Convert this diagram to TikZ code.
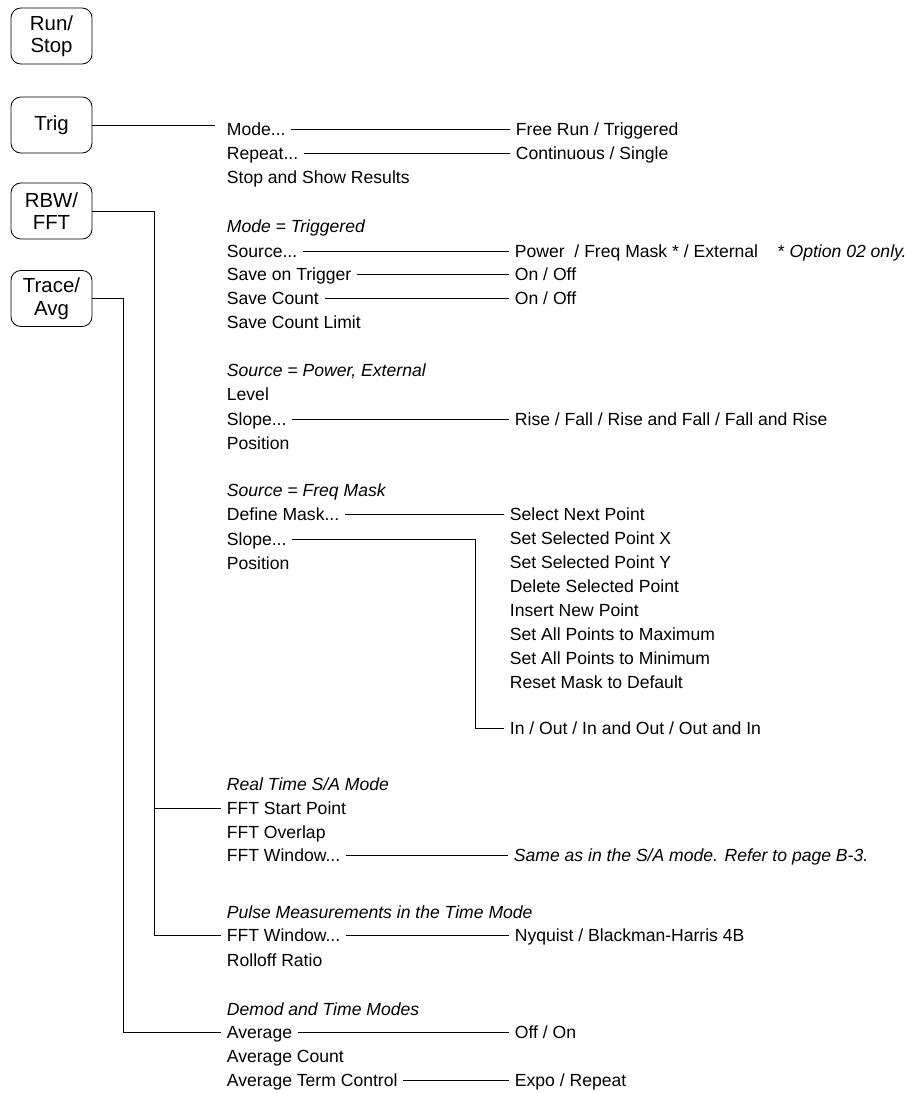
\documentclass[tikz,border=0pt]{standalone}
\usepackage{fontspec}
\setmainfont{Liberation Sans}
\usepackage{tikz}
\newcommand{\menufont}{\fontsize{12.5}{15}\selectfont}
\tikzset{
  keybox/.style = {draw,rounded corners=7pt,line width=0.6pt,minimum width=2.025cm,
                   minimum height=1.4cm,align=center,font=\fontsize{14.5}{16}\selectfont},
  item/.style   = {anchor=west,inner xsep=4pt,inner ysep=0pt,text height=9pt,text depth=0pt,font=\menufont},
  hdr/.style    = {item,font=\menufont\itshape},
  link/.style   = {line width=0.6pt}
}

\begin{document}
\begin{tikzpicture}[x=0.025cm,y=-0.025cm]
  \useasboundingbox (0,0) rectangle (909,1093);
  \node[keybox] (run)   at (51.5,36)    {Run/\\Stop};
  \node[keybox] (trig)  at (51.5,125)   {Trig};
  \node[keybox] (rbw)   at (51.5,211)   {RBW/\\FFT};
  \node[keybox] (trace) at (51.5,298.5) {Trace/\\Avg};
  \coordinate (rbwbus)   at (154,0);
  \coordinate (tracebus) at (123,0);
  \coordinate (maskbus)  at (475,0);
  \coordinate (trigend)  at (215,0);

  \node[item] (mode)     at (221,129)   {Mode...};
  \node[item] (repeat)   at (221,153.5) {Repeat...};
  \node[item] (stopshow) at (221,177.5) {Stop and Show Results};
  \node[hdr]  (hdtrig)   at (221,226)   {Mode = Triggered};
  \node[item] (source)   at (221,251)   {Source...};
  \node[item] (saveon)   at (221,274.5) {Save on Trigger};
  \node[item] (savecnt)  at (221,298.5) {Save Count};
  \node[item] (savelim)  at (221,322)   {Save Count Limit};
  \node[hdr]  (hdpow)    at (221,370.5) {Source = Power, External};
  \node[item] (level)    at (221,394.5) {Level};
  \node[item] (slopea)   at (221,419)   {Slope...};
  \node[item] (posa)     at (221,443)   {Position};
  \node[hdr]  (hdmask)   at (221,490.5) {Source = Freq Mask};
  \node[item] (defmask)  at (221,514.5) {Define Mask...};
  \node[item] (slopeb)   at (221,539)   {Slope...};
  \node[item] (posb)     at (221,563)   {Position};
  \node[hdr]  (hdrt)     at (221,784.5) {Real Time S/A Mode};
  \node[item] (fftstart) at (221,808.5) {FFT Start Point};
  \node[item] (fftovl)   at (221,832.5) {FFT Overlap};
  \node[item] (fftwina)  at (221,855.5) {FFT Window...};
  \node[hdr]  (hdpulse)  at (221,912.5) {Pulse Measurements in the Time Mode};
  \node[item] (fftwinb)  at (221,935.5) {FFT Window...};
  \node[item] (rolloff)  at (221,960.5) {Rolloff Ratio};
  \node[hdr]  (hddemod)  at (221,1009.5) {Demod and Time Modes};
  \node[item] (avg)      at (221,1032.5) {Average};
  \node[item] (avgcnt)   at (221,1056.5) {Average Count};
  \node[item] (avgterm)  at (221,1080.5) {Average Term Control};

  \node[item] (freerun)    at (510,129)   {Free Run / Triggered};
  \node[item] (contsingle) at (510,153.5) {Continuous / Single};
  \node[item] (srcval)     at (509,251)   {Power\ \ / Freq Mask * / External};
  \node[item] (optnote)    at (772,251)   {* \itshape Option 02 only.};
  \node[item] (saveonval)  at (509,274.5) {On / Off};
  \node[item] (savecntval) at (509,298.5) {On / Off};
  \node[item] (slopeval)   at (509,419)   {Rise / Fall / Rise and Fall / Fall and Rise};
  \foreach \txt [count=\i] in {Select Next Point,Set Selected Point X,Set Selected Point Y,
      Delete Selected Point,Insert New Point,Set All Points to Maximum,
      Set All Points to Minimum,Reset Mask to Default}
    \node[item] (m\i) at (504,{514.5+24*(\i-1)}) {\txt};
  \node[item] (inout)  at (504,728.5)  {In / Out / In and Out / Out and In};
  \node[hdr]  (sameas) at (508,855.5)  {Same as in the S/A mode. Refer to page B-3.};
  \node[item] (nyq)    at (509,935.5)  {Nyquist / Blackman-Harris 4B};
  \node[item] (offon)  at (509,1032.5) {Off / On};
  \node[item] (expo)   at (509,1080.5) {Expo / Repeat};

  \draw[link] (trig.east) -- (trig.east -| trigend);
  \draw[link] (mode.east) -- (freerun.west);
  \draw[link] (repeat.east) -- (contsingle.west);
  \draw[link] (source.east) -- (srcval.west);
  \draw[link] (saveon.east) -- (saveonval.west);
  \draw[link] (savecnt.east) -- (savecntval.west);
  \draw[link] (slopea.east) -- (slopeval.west);
  \draw[link] (defmask.east) -- (m1.west);
  \draw[link] (slopeb.east) -- (slopeb.east -| maskbus) |- (inout.west);
  \draw[link] (rbw.east) -- (rbw.east -| rbwbus) |- (fftwinb.west);
  \draw[link] (fftstart.west) -- (fftstart.west -| rbwbus);
  \draw[link] (fftwina.east) -- (sameas.west);
  \draw[link] (fftwinb.east) -- (nyq.west);
  \draw[link] (trace.east) -- (trace.east -| tracebus) |- (avg.west);
  \draw[link] (avg.east) -- (offon.west);
  \draw[link] (avgterm.east) -- (expo.west);
\end{tikzpicture}
\end{document}
